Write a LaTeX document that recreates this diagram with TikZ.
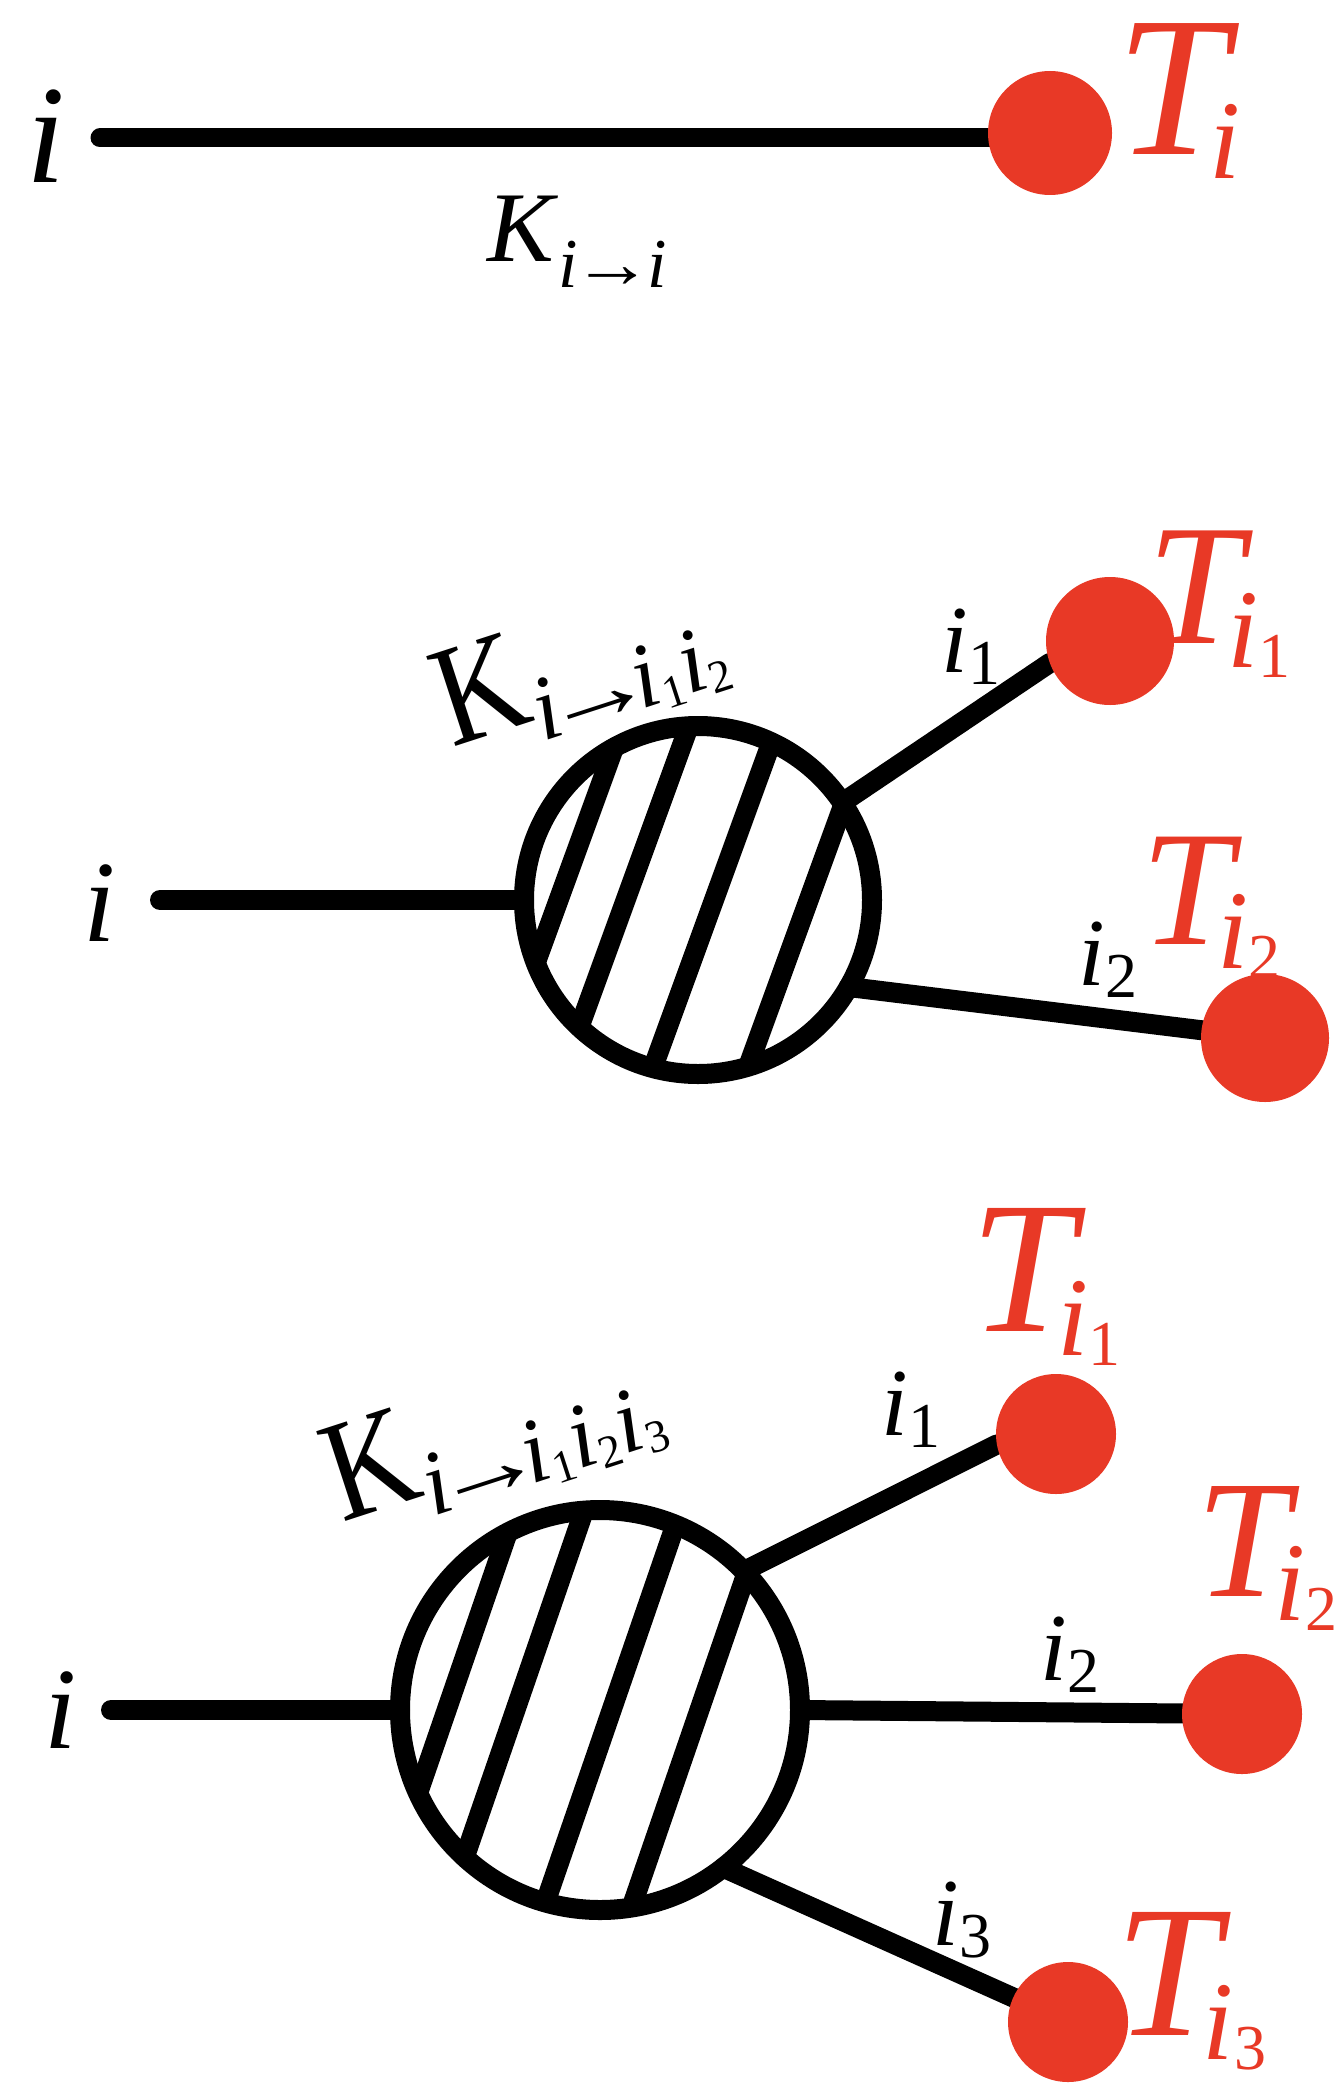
\documentclass[tikz,border=0pt]{standalone}
\usepackage{fontspec}
\setmainfont{Liberation Serif}
\usetikzlibrary{calc,backgrounds}
\definecolor{dotred}{RGB}{232,57,38}
% red handwritten T labels: #1 = size of T, #2 = digit
\newcommand\Tlab[2]{{\fontsize{#1}{#1}\selectfont\textit{T}\kern-0.15em\raisebox{-12pt}{\fontsize{56}{56}\selectfont\textit{i}\raisebox{-5pt}{\fontsize{32}{32}\selectfont #2}}}}
\newcommand\ilab[1]{{\fontsize{48}{48}\selectfont\textit{i}\raisebox{-6pt}{\fontsize{32}{32}\selectfont #1}}}
\newcommand\subd[1]{\raisebox{-4pt}{\fontsize{23}{23}\selectfont #1}}
\newcommand\arr{\kern-0.2em\scalebox{1.25}[1]{→}\kern-0.2em}
\newcommand\bigK{\scalebox{0.85}[1]{\fontsize{72}{72}\selectfont K}}
\begin{document}
\begin{tikzpicture}[x=0.5pt,y=-0.5pt,
  edge/.style={line width=10pt, line cap=round},
  hatch/.style={line width=10pt},
  blob/.style={circle, draw, line width=10pt, inner sep=0pt, outer sep=0pt},
  tdot/.style={circle, fill=dotred, inner sep=0pt, outer sep=0pt, minimum size=#1},
  tdot/.default=60pt,
  lab/.style={inner sep=0pt, anchor=base west}]
\path[use as bounding box] (0,0) rectangle (1336,2092);

% ---------- top ----------
\node[tdot=62pt] (t0) at (1050,133) {};
\coordinate (s0) at (100,138);
\node[lab] (i0) at (26,183) {\fontsize{70}{70}\selectfont\textit{i}};
\node[lab] (K0) at (487,262) {\fontsize{50}{50}\selectfont\textit{K}\raisebox{-13pt}{\fontsize{35}{35}\selectfont\textit{i}\kern-0.08em\scalebox{1.15}[1]{→}\kern-0.08em\textit{i}}};
\node[lab, text=dotred] (T0) at (1116,155) {\Tlab{100}{}};
\begin{pgfonlayer}{background}
  \draw[edge, line width=9.5pt] (s0) -- (s0 -| t0.center);
\end{pgfonlayer}

% ---------- middle ----------
\node[blob, minimum size=174pt] (m) at (698,900) {};
\begin{scope}
  \clip (m.center) circle[radius=87pt];
  \foreach \s in {-131,-68,15,104}
    \draw[hatch] ($(m.center)+(20:\s)$) ++(-70:260) -- ++(110:520);
\end{scope}
\node[tdot=64pt] (d1) at (1110,641) {};
\node[tdot=64pt] (d2) at (1265,1038) {};
\coordinate (s1) at (160,900);
\node[lab] (i1) at (83,941) {\fontsize{58}{58}\selectfont\textit{i}};
\node[lab, rotate=18] (K1) at (452,748) {\bigK\raisebox{-11pt}{\fontsize{46}{46}\selectfont\textit{i}\arr\textit{i}\subd{1}\textit{i}\subd{2}}};
\node[lab] (a1) at (941,672) {\ilab{1}};
\node[lab] (a2) at (1078,985) {\ilab{2}};
\node[lab, text=dotred] (T1) at (1147,643) {\Tlab{86}{1}};
\node[lab, text=dotred] (T2) at (1141,944) {\Tlab{82}{2}};
\begin{pgfonlayer}{background}
  \draw[edge] (s1) -- (m.west);
  \draw[edge] (m.34) -- (d1.200);
  \draw[edge] (m.-30) -- (d2.center);
\end{pgfonlayer}

% ---------- bottom ----------
\node[blob, minimum size=200pt] (b) at (600,1710) {};
\begin{scope}
  \clip (b.center) circle[radius=100pt];
  \foreach \s in {-145,-80,11,94}
    \draw[hatch] ($(b.center)+(19:\s)$) ++(-71:300) -- ++(109:600);
\end{scope}
\node[tdot=60pt] (e1) at (1056,1434) {};
\node[tdot=60pt] (e2) at (1242,1714) {};
\node[tdot=60pt] (e3) at (1068,2022) {};
\coordinate (s2) at (111,1710);
\node[lab] (i2) at (44,1748) {\fontsize{58}{58}\selectfont\textit{i}};
\node[lab, rotate=18] (K2) at (342,1523) {\bigK\raisebox{-11pt}{\fontsize{46}{46}\selectfont\textit{i}\arr\textit{i}\subd{1}\textit{i}\subd{2}\textit{i}\subd{3}}};
\node[lab] (b1) at (881,1435) {\ilab{1}};
\node[lab] (b2) at (1040,1680) {\ilab{2}};
\node[lab] (b3) at (932,1945) {\ilab{3}};
\node[lab, text=dotred] (T3) at (970,1331) {\Tlab{94}{1}};
\node[lab, text=dotred] (T4) at (1196,1596) {\Tlab{84}{2}};
\node[lab, text=dotred] (T5) at (1115,2035) {\Tlab{94}{3}};
\begin{pgfonlayer}{background}
  \draw[edge] (s2) -- (b.west);
  \draw[edge] (b.44) -- (e1.190);
  \draw[edge] (b.east) -- (e2.center);
  \draw[edge] (b.-52) -- (e3.center);
\end{pgfonlayer}
\end{tikzpicture}
\end{document}
